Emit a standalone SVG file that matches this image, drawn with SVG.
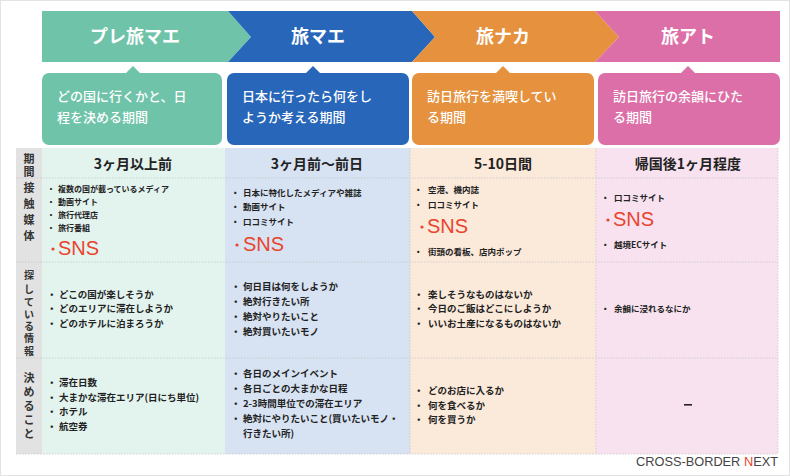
<svg xmlns="http://www.w3.org/2000/svg" width="790" height="476" viewBox="0 0 790 476">
<style>
text{font-family:"Noto Sans CJK JP","Noto Sans",sans-serif;}
.h{fill:#fff;font-size:18px;font-weight:bold;text-anchor:middle;}
.c{fill:#fff;font-size:13px;font-weight:500;}
.p{fill:#222;font-size:14px;font-weight:bold;text-anchor:middle;}
.s{fill:#222;font-size:8px;font-weight:bold;}
.m{fill:#222;font-size:9.5px;font-weight:bold;}
.sns{fill:#e8442e;font-size:20px;font-family:"Liberation Sans",Arial,sans-serif;}
.lb{fill:#333;font-size:11px;font-weight:bold;text-anchor:middle;}
.lb2{fill:#333;font-size:10px;font-weight:bold;text-anchor:middle;}
.dot{fill:#e8442e;}
.dl{stroke:#c8c8c8;stroke-width:0.8;stroke-dasharray:1.5 1.5;fill:none;}
</style>
<rect x="0.5" y="0.5" width="789" height="475" fill="#fff" stroke="#e3e3e3"/>
<g id="header">
<g id="ph-pre"><polygon points="42,11 228,11 251,37 228,62 42,62" fill="#6fc3a9"/><text class="h" x="135" y="43">プレ旅マエ</text></g>
<g id="ph-mae"><polygon points="228,11 412,11 435,37 412,62 228,62 251,37" fill="#2766b8"/><text class="h" x="318" y="43">旅マエ</text></g>
<g id="ph-naka"><polygon points="412,11 595,11 619,37 595,62 412,62 435,37" fill="#e5913e"/><text class="h" x="503" y="43">旅ナカ</text></g>
<g id="ph-ato"><polygon points="595,11 780,11 780,62 595,62 619,37" fill="#dc6fa8"/><text class="h" x="688" y="43">旅アト</text></g>
</g>
<g id="callouts">
<g id="c1"><rect x="42" y="73" width="180" height="72" rx="7" fill="#6fc3a9"/><polygon points="126,73 133,66 140,73" fill="#6fc3a9"/><text class="c" x="57" y="101">どの国に行くかと、日</text><text class="c" x="57" y="122">程を決める期間</text></g>
<g id="c2"><rect x="227" y="73" width="182" height="72" rx="7" fill="#2766b8"/><polygon points="306,73 313,66 320,73" fill="#2766b8"/><text class="c" x="242" y="101">日本に行ったら何をし</text><text class="c" x="242" y="122">ようか考える期間</text></g>
<g id="c3"><rect x="412" y="73" width="182" height="72" rx="7" fill="#e5913e"/><polygon points="496,73 503,66 510,73" fill="#e5913e"/><text class="c" x="427" y="101">訪日旅行を満喫してい</text><text class="c" x="427" y="122">る期間</text></g>
<g id="c4"><rect x="598" y="73" width="182" height="72" rx="7" fill="#dc6fa8"/><polygon points="681,73 688,66 695,73" fill="#dc6fa8"/><text class="c" x="613" y="101">訪日旅行の余韻にひた</text><text class="c" x="613" y="122">る期間</text></g>
</g>
<g id="table">
<rect x="16" y="148" width="26" height="306" fill="#e2e2e2"/>
<rect x="42" y="148" width="183" height="306" fill="#e3f3ee"/>
<rect x="225" y="148" width="185" height="306" fill="#d7e2f2"/>
<rect x="410" y="148" width="186" height="306" fill="#fbe9da"/>
<rect x="596" y="148" width="182" height="306" fill="#f8e2ef"/>
<path class="dl" d="M16,178H778M16,262H778M16,358H778M16,454H778M410,148V454M596,148V454M778,148V454"/>
</g>
<g id="labels">
<text class="lb" x="29" y="163">期</text><text class="lb" x="29" y="176">間</text>
<text class="lb" x="29" y="192">接</text><text class="lb" x="29" y="208">触</text><text class="lb" x="29" y="224">媒</text><text class="lb" x="29" y="240">体</text>
<text class="lb2" x="29" y="279">探</text><text class="lb2" x="29" y="293">し</text><text class="lb2" x="29" y="306">て</text><text class="lb2" x="29" y="318">い</text><text class="lb2" x="29" y="330">る</text><text class="lb2" x="29" y="342">情</text><text class="lb2" x="29" y="355">報</text>
<text class="lb" x="29" y="382">決</text><text class="lb" x="29" y="396">め</text><text class="lb" x="29" y="410">る</text><text class="lb" x="29" y="424">こ</text><text class="lb" x="29" y="438">と</text>
</g>
<g id="col-pre">
<text class="p" x="133" y="169">3ヶ月以上前</text>
<g class="s"><text x="47" y="192">・</text><text x="58" y="192">複数の国が載っているメディア</text>
<text x="47" y="205">・</text><text x="58" y="205">動画サイト</text>
<text x="47" y="218">・</text><text x="58" y="218">旅行代理店</text>
<text x="47" y="231">・</text><text x="58" y="231">旅行番組</text></g>
<circle class="dot" cx="53" cy="249" r="1.6"/><text class="sns" x="58" y="255">SNS</text>
<g class="m"><text x="47" y="298">・</text><text x="59" y="298">どこの国が楽しそうか</text>
<text x="47" y="312">・</text><text x="59" y="312">どのエリアに滞在しようか</text>
<text x="47" y="327">・</text><text x="59" y="327">どのホテルに泊まろうか</text>
<text x="47" y="386">・</text><text x="59" y="386">滞在日数</text>
<text x="47" y="401">・</text><text x="59" y="401">大まかな滞在エリア(日にち単位)</text>
<text x="47" y="415">・</text><text x="59" y="415">ホテル</text>
<text x="47" y="430">・</text><text x="59" y="430">航空券</text></g>
</g>
<g id="col-mae">
<text class="p" x="317" y="169">3ヶ月前〜前日</text>
<g class="m" style="font-size:8.5px"><text x="231" y="196">・</text><text x="243" y="196">日本に特化したメディアや雑誌</text>
<text x="231" y="210">・</text><text x="243" y="210">動画サイト</text>
<text x="231" y="225">・</text><text x="243" y="225">口コミサイト</text></g>
<circle class="dot" cx="237" cy="245" r="1.6"/><text class="sns" x="243" y="251">SNS</text>
<g class="m"><text x="231" y="290">・</text><text x="243" y="290">何日目は何をしようか</text>
<text x="231" y="305">・</text><text x="243" y="305">絶対行きたい所</text>
<text x="231" y="320">・</text><text x="243" y="320">絶対やりたいこと</text>
<text x="231" y="335">・</text><text x="243" y="335">絶対買いたいモノ</text>
<text x="231" y="377">・</text><text x="243" y="377">各日のメインイベント</text>
<text x="231" y="392">・</text><text x="243" y="392">各日ごとの大まかな日程</text>
<text x="231" y="407">・</text><text x="243" y="407">2-3時間単位での滞在エリア</text>
<text x="231" y="422">・</text><text x="243" y="422">絶対にやりたいこと(買いたいモノ・</text>
<text x="243" y="437">行きたい所)</text></g>
</g>
<g id="col-naka">
<text class="p" x="503" y="169">5-10日間</text>
<g class="m" style="font-size:8.5px"><text x="414" y="193">・</text><text x="428" y="193">空港、機内誌</text>
<text x="414" y="208">・</text><text x="428" y="208">口コミサイト</text>
<text x="414" y="255">・</text><text x="428" y="255">街頭の看板、店内ポップ</text></g>
<circle class="dot" cx="422" cy="227" r="1.6"/><text class="sns" x="427" y="233">SNS</text>
<g class="m"><text x="414" y="298">・</text><text x="428" y="298">楽しそうなものはないか</text>
<text x="414" y="312">・</text><text x="428" y="312">今日のご飯はどこにしようか</text>
<text x="414" y="327">・</text><text x="428" y="327">いいお土産になるものはないか</text>
<text x="414" y="394">・</text><text x="428" y="394">どのお店に入るか</text>
<text x="414" y="409">・</text><text x="428" y="409">何を食べるか</text>
<text x="414" y="423">・</text><text x="428" y="423">何を買うか</text></g>
</g>
<g id="col-ato">
<text class="p" x="688" y="169">帰国後1ヶ月程度</text>
<g class="m" style="font-size:8.5px"><text x="601" y="201">・</text><text x="614" y="201">口コミサイト</text>
<text x="601" y="248">・</text><text x="614" y="248">越境ECサイト</text>
<text x="601" y="312">・</text><text x="614" y="312">余韻に浸れるなにか</text></g>
<circle class="dot" cx="608" cy="220" r="1.6"/><text class="sns" x="613" y="226">SNS</text>
<rect x="684" y="404" width="8" height="1.6" fill="#222"/>
</g>
<g id="logo">
<text x="636" y="466" font-size="13" fill="#444" textLength="142" lengthAdjust="spacingAndGlyphs" style="font-family:'Liberation Sans',Arial,sans-serif">CROSS-BORDER <tspan fill="#e8442e">N</tspan>EXT</text>
</g>
</svg>
